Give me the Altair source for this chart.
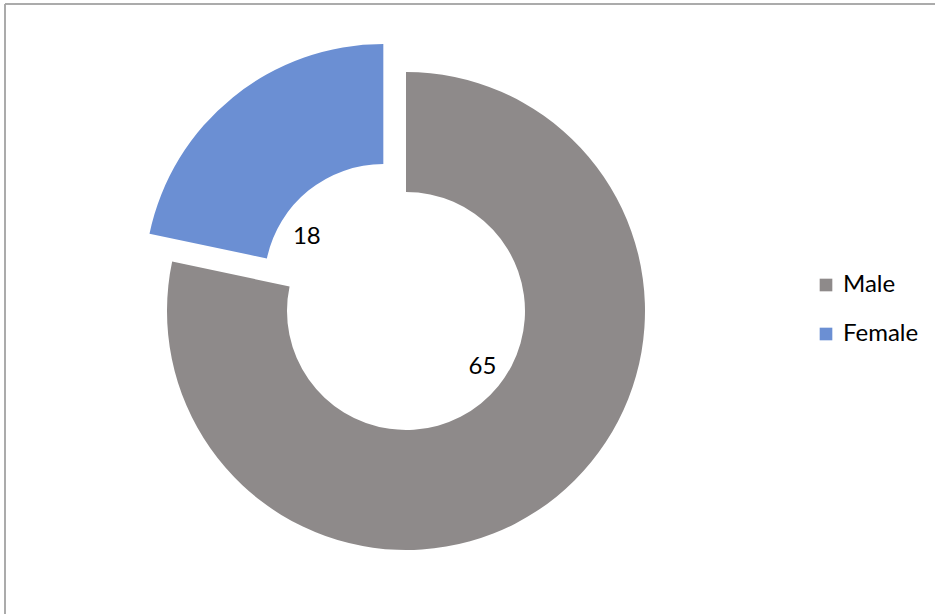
import altair as alt
import pandas as pd

genders = ["Male", "Female"]
counts = [65, 18]
order = [0, 1]

df = pd.DataFrame({"gender": genders, "count": counts, "order": order})

MALE_COLOR = "#8e8a8a"
FEMALE_COLOR = "#6b8fd3"
CX, CY = 401, 307
EXPLODE = 36
W, H = 930, 610
BORDER = "#a6a6a6"

base = (
    alt.Chart(df)
    .transform_window(cum="sum(count)", sort=[alt.SortField("order")])
    .transform_joinaggregate(total="sum(count)")
    .transform_calculate(
        t1="(datum.cum - datum.count) / datum.total * 2 * PI",
        t2="datum.cum / datum.total * 2 * PI",
    )
    .transform_calculate(tm="(datum.t1 + datum.t2) / 2")
    .transform_calculate(ex=f"datum.gender == 'Female' ? {EXPLODE} : 0")
    .transform_calculate(
        cx=f"{CX} + datum.ex * sin(datum.tm)",
        cy=f"{CY} - datum.ex * cos(datum.tm)",
        tl="datum.tm - 0.3",
    )
)

arcs = base.mark_arc(innerRadius=119, outerRadius=239).encode(
    theta=alt.Theta("t1:Q", scale=None),
    theta2="t2:Q",
    x=alt.X("cx:Q", scale=None, axis=None),
    y=alt.Y("cy:Q", scale=None, axis=None),
    color=alt.Color(
        "gender:N",
        scale=alt.Scale(domain=genders, range=[MALE_COLOR, FEMALE_COLOR]),
        sort=genders,
        legend=alt.Legend(
            title=None,
            orient="none",
            legendX=809,
            legendY=269,
            symbolType="square",
            symbolSize=160,
            symbolStrokeWidth=0,
            labelFont="Lato",
            labelFontSize=24,
            labelColor="#000000",
            labelOffset=5,
            rowPadding=25,
        ),
    ),
)

labels = base.mark_text(font="Lato", fontSize=24, color="#000000", dy=5).encode(
    x=alt.X("cx:Q", scale=None, axis=None),
    y=alt.Y("cy:Q", scale=None, axis=None),
    theta=alt.Theta("tl:Q", scale=None),
    radius=alt.value(92),
    text=alt.Text("count:Q"),
)

border_left = alt.Chart(df).mark_rule(color=BORDER, strokeWidth=1.5).encode(
    x=alt.value(0), y=alt.value(0), y2=alt.value(H + 10)
)
border_top = alt.Chart(df).mark_rule(color=BORDER, strokeWidth=1.5).encode(
    x=alt.value(0), x2=alt.value(W + 10), y=alt.value(0)
)

chart = (
    alt.layer(border_left, border_top, arcs, labels)
    .properties(
        width=W,
        height=H,
        padding={"left": 5, "top": 4, "right": 0, "bottom": 0},
        autosize=alt.AutoSizeParams(type="none"),
    )
    .configure_view(stroke=None)
)

chart.save("out.html", embed_options={"renderer": "svg", "actions": False})
